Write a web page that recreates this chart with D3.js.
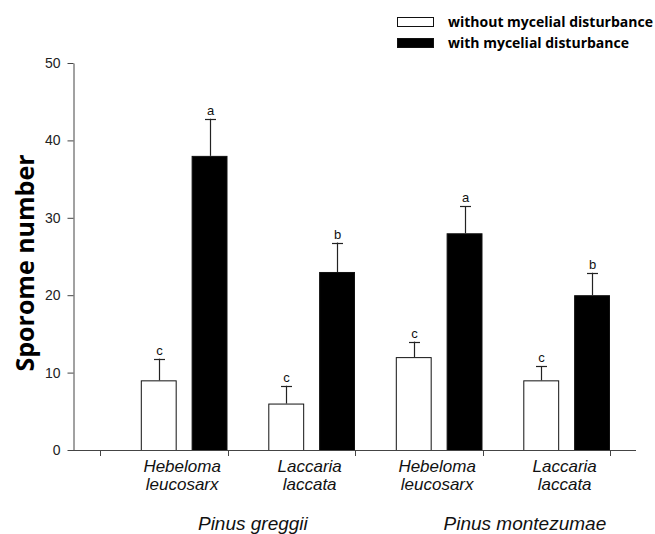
<!DOCTYPE html>
<html>
<head>
<meta charset="utf-8">
<script src="https://cdn.jsdelivr.net/npm/d3@7"></script>
<style>
  html, body { margin: 0; padding: 0; background: #fff; }
  svg { display: block; }
</style>
</head>
<body>
<svg id="chart" width="655" height="534"></svg>
<script>
// ---- data ----
const species = ["Hebeloma leucosarx", "Laccaria laccata", "Hebeloma leucosarx", "Laccaria laccata"];
const hosts = ["Pinus greggii", "Pinus greggii", "Pinus montezumae", "Pinus montezumae"];
const hostNames = ["Pinus greggii", "Pinus montezumae"];
const series = ["without mycelial disturbance", "with mycelial disturbance"];
const withoutMeans = [9, 6, 12, 9];
const withoutErr = [2.8, 2.3, 2.0, 1.8];
const withMeans = [38, 23, 28, 20];
const withErr = [4.8, 3.8, 3.5, 2.9];
const withoutLetters = ["c", "c", "c", "c"];
const withLetters = ["a", "b", "a", "b"];
const yTicks = [0, 10, 20, 30, 40, 50];

// ---- layout ----
const W = 655, H = 534;
const plot = { left: 73, right: 636, top: 63, bottom: 450 };
const hostLabelDx = [5, 22];
const svg = d3.select("#chart");
const arial = "'Liberation Sans', Arial, sans-serif";
const bold = "'Open Sans', 'Noto Sans', sans-serif";

const x = d3.scaleBand().domain(d3.range(species.length)).range([100, 610]).paddingInner(0).paddingOuter(0);
const bw = x.bandwidth();
const sub = d3.scaleBand().domain(series).range([bw * 0.32, bw]).paddingInner(0.294).paddingOuter(0);
const y = d3.scaleLinear().domain([0, 50]).range([plot.bottom, plot.top]);

const rows = [];
species.forEach((s, i) => {
  rows.push({ i, s: series[0], v: withoutMeans[i], e: withoutErr[i], l: withoutLetters[i], fill: "#fff" });
  rows.push({ i, s: series[1], v: withMeans[i], e: withErr[i], l: withLetters[i], fill: "#000" });
});

// bars
svg.append("g").selectAll("rect").data(rows).join("rect")
  .attr("x", d => x(d.i) + sub(d.s) + 0.5)
  .attr("y", d => y(d.v) + 0.5)
  .attr("width", sub.bandwidth() - 1)
  .attr("height", d => y(0) - y(d.v))
  .attr("fill", d => d.fill)
  .attr("stroke", "#111")
  .attr("stroke-width", 1);

// error bars
const cap = 11;
const eg = svg.append("g").attr("stroke", "#222").attr("stroke-width", 1.2);
rows.forEach(d => {
  const cx = Math.round(x(d.i) + sub(d.s) + sub.bandwidth() / 2) + 0.5;
  eg.append("line").attr("x1", cx).attr("x2", cx).attr("y1", y(d.v)).attr("y2", y(d.v + d.e));
  eg.append("line").attr("x1", cx - cap / 2).attr("x2", cx + cap / 2)
    .attr("y1", Math.round(y(d.v + d.e)) + 0.5).attr("y2", Math.round(y(d.v + d.e)) + 0.5);
  svg.append("text").attr("x", cx).attr("y", y(d.v + d.e) - 4)
    .attr("text-anchor", "middle").attr("font-family", arial).attr("font-size", 13)
    .attr("fill", "#111").text(d.l);
});

// y axis
const yAxis = svg.append("g").attr("transform", `translate(${plot.left + 0.5},0)`)
  .call(d3.axisLeft(y).tickValues(yTicks).tickSize(6).tickSizeOuter(0).tickPadding(7));
yAxis.select(".domain").attr("stroke", "#444");
yAxis.selectAll(".tick line").attr("stroke", "#444");
yAxis.selectAll(".tick text").attr("font-family", arial).attr("font-size", 14).attr("fill", "#222");

// x axis
const xg = svg.append("g").attr("stroke", "#444").attr("stroke-width", 1);
xg.append("line").attr("x1", plot.left).attr("x2", plot.right)
  .attr("y1", plot.bottom + 0.5).attr("y2", plot.bottom + 0.5);
const edges = x.domain().map(d => x(d)).concat([x(species.length - 1) + bw]);
xg.selectAll("line.tk").data(edges).join("line").attr("class", "tk")
  .attr("x1", d => Math.round(d) + 0.5).attr("x2", d => Math.round(d) + 0.5)
  .attr("y1", plot.bottom).attr("y2", plot.bottom + 6);

// category labels
const pairCenter = i => x(i) + (sub(series[0]) + sub(series[1]) + sub.bandwidth()) / 2;
species.forEach((s, i) => {
  const parts = s.split(" ");
  const t = svg.append("text").attr("text-anchor", "middle")
    .attr("font-family", arial).attr("font-style", "italic").attr("font-size", 17)
    .attr("fill", "#111");
  t.append("tspan").attr("x", pairCenter(i) - 2).attr("y", 472).text(parts[0]);
  t.append("tspan").attr("x", pairCenter(i) - 2).attr("y", 490).text(parts[1]);
});

// host labels
hostNames.forEach((h, k) => {
  const idx = d3.range(species.length).filter(i => hosts[i] === h);
  const cx = d3.mean(idx, i => pairCenter(i)) + hostLabelDx[k];
  svg.append("text").attr("x", cx).attr("y", 530).attr("text-anchor", "middle")
    .attr("font-family", arial).attr("font-style", "italic").attr("font-size", 19)
    .attr("fill", "#111").text(h);
});

// y title
svg.append("text").attr("transform", `translate(34,${263}) rotate(-90)`)
  .attr("text-anchor", "middle").attr("font-family", bold).attr("font-weight", "bold")
  .attr("font-size", 25).attr("fill", "#000").text("Sporome number");

// legend
const lg = svg.append("g");
series.forEach((s, k) => {
  const yy = 17 + k * 21;
  lg.append("rect").attr("x", 397.5).attr("y", yy + 0.5).attr("width", 36).attr("height", 9)
    .attr("fill", k === 0 ? "#fff" : "#000").attr("stroke", "#111");
  lg.append("text").attr("x", 448).attr("y", yy + 10).attr("font-family", bold)
    .attr("font-weight", "bold").attr("font-size", 14).attr("fill", "#000").text(s);
});
</script>
</body>
</html>
